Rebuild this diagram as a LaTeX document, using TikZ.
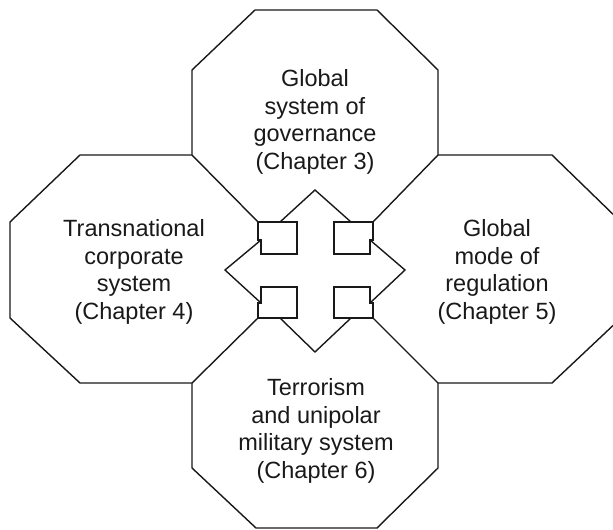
\documentclass[tikz,border=0pt]{standalone}
\usepackage{fontspec}
\setmainfont{Liberation Sans}
\begin{document}
\begin{tikzpicture}[x=1pt,y=-1pt,
  outline/.style={line width=1.4pt, line join=miter, draw=black!90},
  lbl/.style={font=\fontsize{23.5}{27.7}\selectfont, align=center, inner sep=0pt, text=black!90}]
\useasboundingbox (0,0) rectangle (613,530);
\clip (0,0) rectangle (613,530);
% octagons
\draw[outline] (258,222) -- (192,155) -- (192,70) -- (255,10) -- (377,10) -- (438,70) -- (438,155) -- (373,222);
\draw[outline] (192,155) -- (80,155) -- (10,222) -- (10,318) -- (80,383) -- (192,383) -- (258,318);
\draw[outline] (192,383) -- (192,468) -- (256,528) -- (377,528) -- (438,468) -- (438,383) -- (373,318);
\draw[outline] (438,155) -- (552,155) -- (621,222) -- (621,318) -- (552,383) -- (438,383);
% corner squares of the cross
\draw[outline] (258,222) -- (297,222) -- (297,254) -- (261,254) -- (261,240) -- (258,240) -- cycle;
\draw[outline] (334,222) -- (373,222) -- (373,240) -- (370,240) -- (370,254) -- (334,254) -- cycle;
\draw[outline] (258,318) -- (297,318) -- (297,287) -- (261,287) -- (261,303) -- (258,303) -- cycle;
\draw[outline] (334,318) -- (373,318) -- (373,303) -- (370,303) -- (370,287) -- (334,287) -- cycle;
% four-way arrow heads
\draw[outline] (280,222) -- (315,190) -- (351,222);
\draw[outline] (280,318) -- (315,352) -- (351,318);
\draw[outline] (261,240) -- (225,270) -- (261,303);
\draw[outline] (370,240) -- (405,270) -- (370,303);
% labels
\node[lbl] (gov) at (315,122) {Global\\system of\\governance\\(Chapter 3)};
\node[lbl] (tnc) at (134,272) {Transnational\\corporate\\system\\(Chapter 4)};
\node[lbl] (reg) at (497,272) {Global\\mode of\\regulation\\(Chapter 5)};
\node[lbl] (mil) at (316,431) {Terrorism\\and unipolar\\military system\\(Chapter 6)};
\end{tikzpicture}
\end{document}
